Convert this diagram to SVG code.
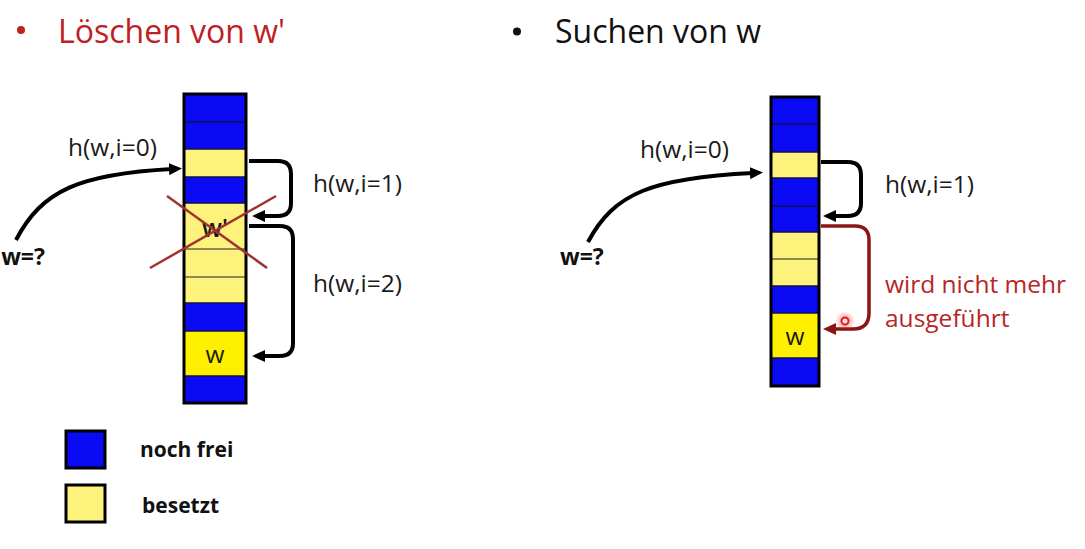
<svg xmlns="http://www.w3.org/2000/svg" width="1085" height="549" viewBox="0 0 1085 549">
<style>
.lbl{font-family:"Open Sans","Liberation Sans",sans-serif;font-size:24.5px;fill:#1a1a1a}
.ttl{font-family:"Open Sans","Liberation Sans",sans-serif;font-size:32px}
.bold{font-family:"Open Sans","Liberation Sans",sans-serif;font-weight:bold;fill:#111}
.red{fill:#b82525}
.blue{fill:#0a0af5}
.ly{fill:#fdf27c}
.by{fill:#fff000}
.sepb{stroke:#10104a;stroke-width:1.5}
.sepy{stroke:#222;stroke-width:1.2}
.col{fill:none;stroke:#000;stroke-width:3}
.arr{fill:none;stroke:#000;stroke-width:4}
.rarr{fill:none;stroke:#8b1515;stroke-width:3.5}
.cross{stroke:#a03232;stroke-width:2.5}
</style>
<defs>
<marker id="ah" markerUnits="userSpaceOnUse" markerWidth="14" markerHeight="12" refX="3" refY="6" orient="auto">
<path d="M0,0 L13,6 L0,12 z" fill="#000"/>
</marker>
<marker id="ahr" markerUnits="userSpaceOnUse" markerWidth="14" markerHeight="12" refX="3" refY="6" orient="auto">
<path d="M0,0 L13,6 L0,12 z" fill="#8b1515"/>
</marker>
<radialGradient id="glow">
<stop offset="0" stop-color="#ff3030" stop-opacity="0.6"/>
<stop offset="1" stop-color="#ff3030" stop-opacity="0"/>
</radialGradient>
</defs>
<rect width="1085" height="549" fill="#fff"/>

<g id="title-left">
<circle cx="21" cy="30" r="4" fill="#c0201f"/>
<text class="ttl" x="58" y="43" fill="#c0201f">Löschen von w'</text>
</g>
<g id="title-right">
<circle cx="517" cy="31.5" r="4" fill="#111"/>
<text class="ttl" x="555" y="43" fill="#111">Suchen von w</text>
</g>

<g id="table-left">
<rect class="blue" x="184" y="94" width="62" height="28"/>
<rect class="blue" x="184" y="122" width="62" height="27"/>
<rect class="ly" x="184" y="149" width="62" height="28"/>
<rect class="blue" x="184" y="177" width="62" height="26"/>
<rect class="ly" x="184" y="203" width="62" height="46"/>
<rect class="ly" x="184" y="249" width="62" height="28"/>
<rect class="ly" x="184" y="277" width="62" height="26"/>
<rect class="blue" x="184" y="303" width="62" height="28"/>
<rect class="by" x="184" y="331" width="62" height="45"/>
<rect class="blue" x="184" y="376" width="62" height="27"/>
<line class="sepb" x1="184" y1="122" x2="246" y2="122"/>
<line class="sepb" x1="184" y1="149" x2="246" y2="149"/>
<line class="sepb" x1="184" y1="177" x2="246" y2="177"/>
<line class="sepb" x1="184" y1="203" x2="246" y2="203"/>
<line class="sepy" x1="184" y1="249" x2="246" y2="249"/>
<line class="sepy" x1="184" y1="277" x2="246" y2="277"/>
<line class="sepb" x1="184" y1="303" x2="246" y2="303"/>
<line class="sepb" x1="184" y1="331" x2="246" y2="331"/>
<line class="sepb" x1="184" y1="376" x2="246" y2="376"/>
<rect class="col" x="184" y="94" width="62" height="309"/>
<text class="lbl" x="215" y="237" text-anchor="middle" font-size="22" font-weight="600">w'</text>
<text class="lbl" x="215" y="363" text-anchor="middle" font-size="20">w</text>
<line class="cross" x1="167" y1="196" x2="267" y2="268"/>
<line class="cross" x1="150" y1="268" x2="276" y2="196"/>
</g>

<g id="table-right">
<rect class="blue" x="771" y="97" width="48" height="27"/>
<rect class="blue" x="771" y="124" width="48" height="28"/>
<rect class="ly" x="771" y="152" width="48" height="26"/>
<rect class="blue" x="771" y="178" width="48" height="28"/>
<rect class="blue" x="771" y="206" width="48" height="26"/>
<rect class="ly" x="771" y="232" width="48" height="27"/>
<rect class="ly" x="771" y="259" width="48" height="27"/>
<rect class="blue" x="771" y="286" width="48" height="27"/>
<rect class="by" x="771" y="313" width="48" height="45"/>
<rect class="blue" x="771" y="358" width="48" height="28"/>
<line class="sepb" x1="771" y1="124" x2="819" y2="124"/>
<line class="sepb" x1="771" y1="152" x2="819" y2="152"/>
<line class="sepb" x1="771" y1="178" x2="819" y2="178"/>
<line class="sepb" x1="771" y1="206" x2="819" y2="206"/>
<line class="sepb" x1="771" y1="232" x2="819" y2="232"/>
<line class="sepy" x1="771" y1="259" x2="819" y2="259"/>
<line class="sepb" x1="771" y1="286" x2="819" y2="286"/>
<line class="sepb" x1="771" y1="313" x2="819" y2="313"/>
<line class="sepb" x1="771" y1="358" x2="819" y2="358"/>
<rect class="col" x="771" y="97" width="48" height="289"/>
<text class="lbl" x="795" y="345" text-anchor="middle" font-size="20">w</text>
</g>

<g id="connectors">
<path class="arr" d="M16,240 C42,190 80,174 172,169" marker-end="url(#ah)"/>
<path class="arr" d="M249,161 H278 Q291,161 291,174 V203 Q291,216 278,216 H262" marker-end="url(#ah)"/>
<path class="arr" d="M249,226 H280 Q293,226 293,239 V343 Q293,356 280,356 H262" marker-end="url(#ah)"/>
<path class="arr" d="M588,242 C614,193 652,178 753,173" marker-end="url(#ah)"/>
<path class="arr" d="M821,162 H848 Q861,162 861,175 V203 Q861,216 848,216 H833" marker-end="url(#ah)"/>
<path class="rarr" d="M821,226 H855 Q869,226 869,240 V313 Q869,329 853,329 H833" marker-end="url(#ahr)"/>
</g>

<g id="labels-left">
<text class="bold" x="45" y="265" font-size="23" text-anchor="end">w=?</text>
<text class="lbl" x="68" y="156">h(w,i=0)</text>
<text class="lbl" x="313" y="192">h(w,i=1)</text>
<text class="lbl" x="313" y="292">h(w,i=2)</text>
</g>
<g id="labels-right">
<text class="bold" x="560" y="265" font-size="23">w=?</text>
<text class="lbl" x="640" y="158">h(w,i=0)</text>
<text class="lbl" x="885" y="193">h(w,i=1)</text>
<text class="lbl red" x="885" y="293">wird nicht mehr</text>
<text class="lbl red" x="885" y="327">ausgeführt</text>
</g>

<g id="pointer">
<circle cx="845" cy="321" r="10" fill="url(#glow)"/>
<circle cx="845" cy="321" r="3.5" fill="#ffe0e0" stroke="#e02020" stroke-width="2"/>
</g>

<g id="legend">
<rect x="66" y="431" width="39" height="37" class="blue" stroke="#000" stroke-width="3"/>
<rect x="66" y="485" width="39" height="37" class="ly" stroke="#000" stroke-width="3"/>
<text class="bold" x="140" y="457" font-size="21">noch frei</text>
<text class="bold" x="142" y="513" font-size="21">besetzt</text>
</g>
</svg>
